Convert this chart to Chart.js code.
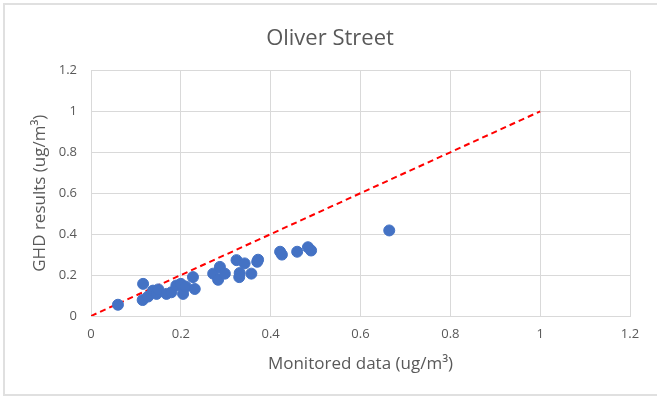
<!DOCTYPE html>
<html>
<head>
<meta charset="utf-8">
<script src="https://cdn.jsdelivr.net/npm/chart.js@4"></script>
<style>
  html, body { margin: 0; padding: 0; background: #fff; overflow: hidden; }
  #wrap { position: absolute; left: 0; top: 0; width: 657px; height: 396px; overflow: hidden; }
  #frame { position: absolute; left: 3px; top: 3px; width: 670px; height: 393px; border: 2px solid #e0e0e0; box-sizing: border-box; pointer-events: none; }
</style>
</head>
<body>
<div id="wrap">
  <canvas id="chart" width="657" height="396"></canvas>
  <div id="frame"></div>
</div>
<script>
// monitored vs modelled concentrations
const monitored = [0.06, 0.115, 0.116, 0.127, 0.138, 0.146, 0.150, 0.168, 0.179, 0.190, 0.200, 0.205,
  0.211, 0.227, 0.231, 0.272, 0.283, 0.287, 0.298, 0.324, 0.330, 0.331, 0.342, 0.357, 0.370, 0.372,
  0.421, 0.425, 0.459, 0.483, 0.490, 0.664];
const ghd = [0.055, 0.078, 0.157, 0.095, 0.124, 0.108, 0.130, 0.108, 0.116, 0.149, 0.157, 0.108,
  0.144, 0.190, 0.132, 0.207, 0.177, 0.240, 0.207, 0.273, 0.190, 0.210, 0.257, 0.207, 0.265, 0.275,
  0.314, 0.300, 0.314, 0.336, 0.320, 0.418];

// 1:1 reference line
const lineX = [0, 1];
const lineY = [0, 1];

const xTicks = [0, 0.2, 0.4, 0.6, 0.8, 1, 1.2];
const yTicks = [0, 0.2, 0.4, 0.6, 0.8, 1, 1.2];

const fontFamily = "'Open Sans', sans-serif";
const textColor = '#595959';
const gridColor = '#d9d9d9';

const points = monitored.map((x, i) => ({ x: x, y: ghd[i] }));
const linePts = lineX.map((x, i) => ({ x: x, y: lineY[i] }));

const ctx = document.getElementById('chart').getContext('2d');
new Chart(ctx, {
  type: 'scatter',
  data: {
    datasets: [{
      label: 'GHD results',
      data: points,
      backgroundColor: '#4472C4',
      borderColor: '#4472C4',
      pointRadius: 5.5,
      pointHoverRadius: 5.5,
      order: 1
    }, {
      type: 'line',
      label: '1:1',
      data: linePts,
      borderColor: '#ff0000',
      borderWidth: 2,
      borderDash: [6, 4],
      pointRadius: 0,
      fill: false,
      order: 2
    }]
  },
  options: {
    responsive: false,
    animation: false,
    layout: { padding: { left: 30, right: 27, top: 26, bottom: 22 } },
    plugins: {
      legend: { display: false },
      tooltip: { enabled: false },
      title: {
        display: true,
        text: 'Oliver Street',
        color: textColor,
        font: { family: fontFamily, size: 22, weight: 'normal' },
        padding: { top: 0, bottom: 18 }
      }
    },
    scales: {
      x: {
        type: 'linear',
        min: 0,
        max: 1.2,
        afterBuildTicks: (axis) => { axis.ticks = xTicks.map(v => ({ value: v })); },
        ticks: {
          color: textColor,
          font: { family: fontFamily, size: 13 },
          padding: 10,
          maxRotation: 0,
          callback: (v) => String(v)
        },
        grid: { color: gridColor, drawTicks: false },
        border: { color: gridColor },
        title: {
          display: true,
          text: 'Monitored data (ug/m³)',
          color: textColor,
          font: { family: fontFamily, size: 17 },
          padding: { top: 2, bottom: 0 }
        }
      },
      y: {
        type: 'linear',
        min: 0,
        max: 1.2,
        afterBuildTicks: (axis) => { axis.ticks = yTicks.map(v => ({ value: v })); },
        afterFit: (axis) => { axis.width = 61; },
        ticks: {
          color: textColor,
          font: { family: fontFamily, size: 13 },
          padding: 14,
          callback: (v) => String(v)
        },
        grid: { color: gridColor, drawTicks: false },
        border: { color: gridColor },
        title: {
          display: true,
          text: 'GHD results (ug/m³)',
          color: textColor,
          font: { family: fontFamily, size: 17 },
          padding: { top: 0, bottom: 4 }
        }
      }
    }
  }
});
</script>
</body>
</html>
